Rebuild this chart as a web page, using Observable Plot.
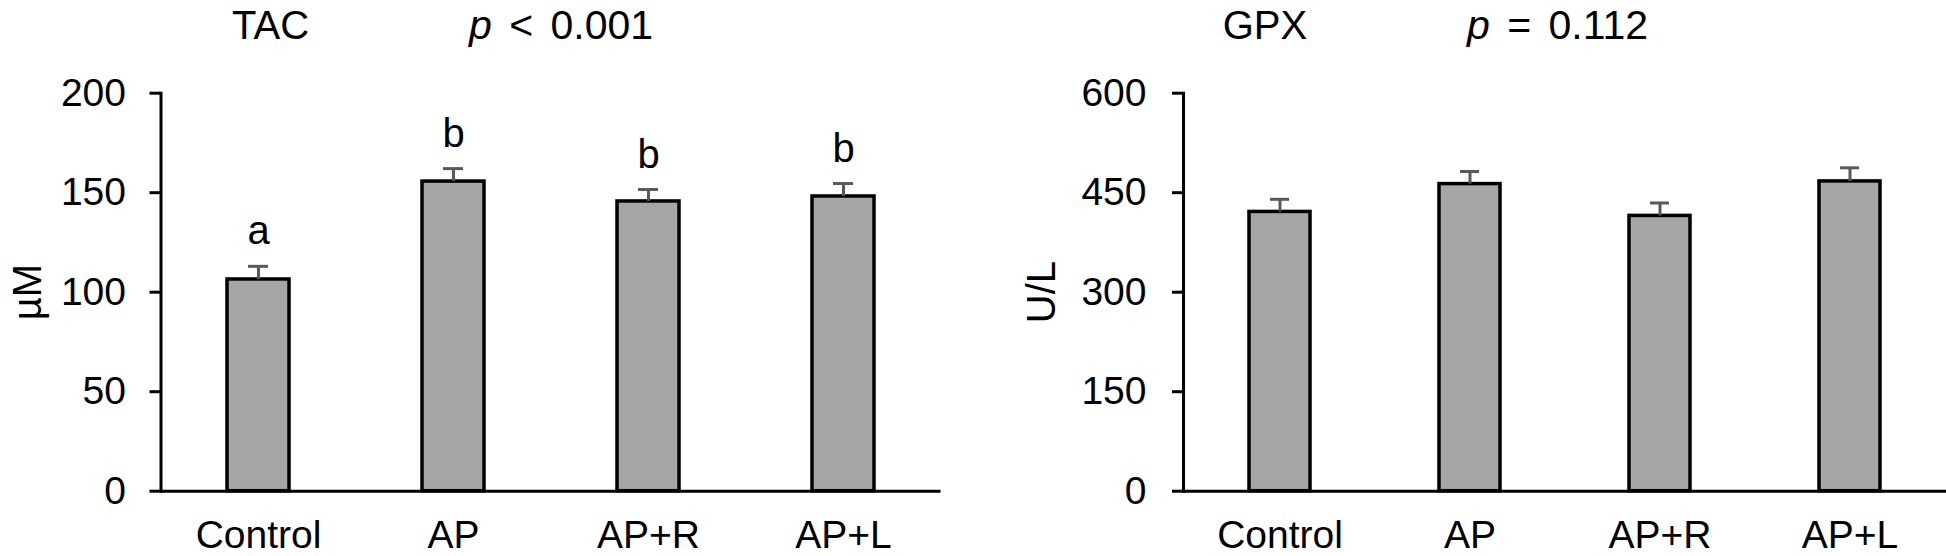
<!DOCTYPE html>
<html>
<head>
<meta charset="utf-8">
<script src="https://cdn.jsdelivr.net/npm/d3@7"></script>
<script src="https://cdn.jsdelivr.net/npm/@observablehq/plot@0.6"></script>
<style>
  html, body { margin: 0; padding: 0; background: #fff; }
  #wrap { position: relative; width: 1946px; height: 556px; overflow: hidden; font-family: "Liberation Sans", Arial, sans-serif; color: #000; }
  #wrap svg { position: absolute; top: 0; }
  .t { position: absolute; font-size: 40px; line-height: 46px; white-space: nowrap; }
  .p { word-spacing: 6px; font-size: 41px; }
  .ylab { position: absolute; font-size: 40px; line-height: 40px; white-space: nowrap; transform: translate(-50%, -50%) rotate(-90deg); }
</style>
</head>
<body>
<div id="wrap">
  <div class="t" style="left:232px; top:2px;">TAC</div>
  <div class="t p" style="left:469px; top:2px;"><i>p</i> &lt; 0.001</div>
  <div class="t" style="left:1265px; top:2px; transform:translateX(-50%);">GPX</div>
  <div class="t p" style="left:1467px; top:2px;"><i>p</i> = 0.112</div>
  <div class="ylab" style="left:27px; top:292px;">µM</div>
  <div class="ylab" style="left:1041px; top:292px;">U/L</div>
</div>
<script>
const groups = ["Control", "AP", "AP+R", "AP+L"];
const tacMean = [106.4, 155.6, 145.6, 148.1];
const tacErr = [6.6, 6.5, 6.0, 6.5];
const tacLetters = ["a", "b", "b", "b"];
const tacTicks = [0, 50, 100, 150, 200];
const gpxMean = [421, 463, 415, 467];
const gpxErr = [19, 19, 19.5, 20.5];
const gpxTicks = [0, 150, 300, 450, 600];

function panel({mean, err, letters, ticks, width, marginLeft, marginRight, tickPadding, paddingInner}) {
  const data = groups.map((g, i) => ({group: g, mean: mean[i], err: err[i], letter: letters ? letters[i] : ""}));
  const top = ticks[ticks.length - 1];
  return Plot.plot({
    width, height: 556,
    marginLeft, marginRight, marginTop: 92.7, marginBottom: 65.3,
    style: {fontFamily: "'Liberation Sans', Arial, sans-serif", color: "#000", background: "transparent", overflow: "visible"},
    x: {domain: groups, paddingInner, paddingOuter: paddingInner / 2, label: null},
    y: {domain: [0, top], label: null},
    marks: [
      Plot.barY(data, {x: "group", y: "mean", fill: "#a6a6a6", stroke: "#000", strokeWidth: 3.5}),
      Plot.ruleX(data, {x: "group", y1: "mean", y2: d => d.mean + d.err, stroke: "#595959", strokeWidth: 3}),
      Plot.tickY(data, {x: "group", y: d => d.mean + d.err, stroke: "#595959", strokeWidth: 3, insetLeft: 21, insetRight: 21}),
      Plot.text(data, {x: "group", y: d => d.mean + d.err, text: "letter", dy: -22, lineAnchor: "bottom", fontSize: 40, fill: "#000"}),
      Plot.axisY({ticks, tickSize: 11, tickPadding, fontSize: 39, label: null, stroke: "#000", strokeWidth: 3}),
      Plot.axisX({tickSize: 0, tickPadding: 29, fontSize: 39, label: null}),
      Plot.frame({anchor: "left", stroke: "#000", strokeWidth: 3}),
      Plot.ruleY([0], {stroke: "#000", strokeWidth: 3})
    ]
  });
}

const wrap = document.getElementById("wrap");
const left = panel({mean: tacMean, err: tacErr, letters: tacLetters, ticks: tacTicks, width: 960, marginLeft: 160.5, marginRight: 19.5, tickPadding: 24, paddingInner: 0.682});
left.style.left = "0px";
wrap.appendChild(left);
const right = panel({mean: gpxMean, err: gpxErr, letters: null, ticks: gpxTicks, width: 986, marginLeft: 223, marginRight: 0, tickPadding: 26, paddingInner: 0.68});
right.style.left = "960px";
wrap.appendChild(right);
</script>
</body>
</html>
